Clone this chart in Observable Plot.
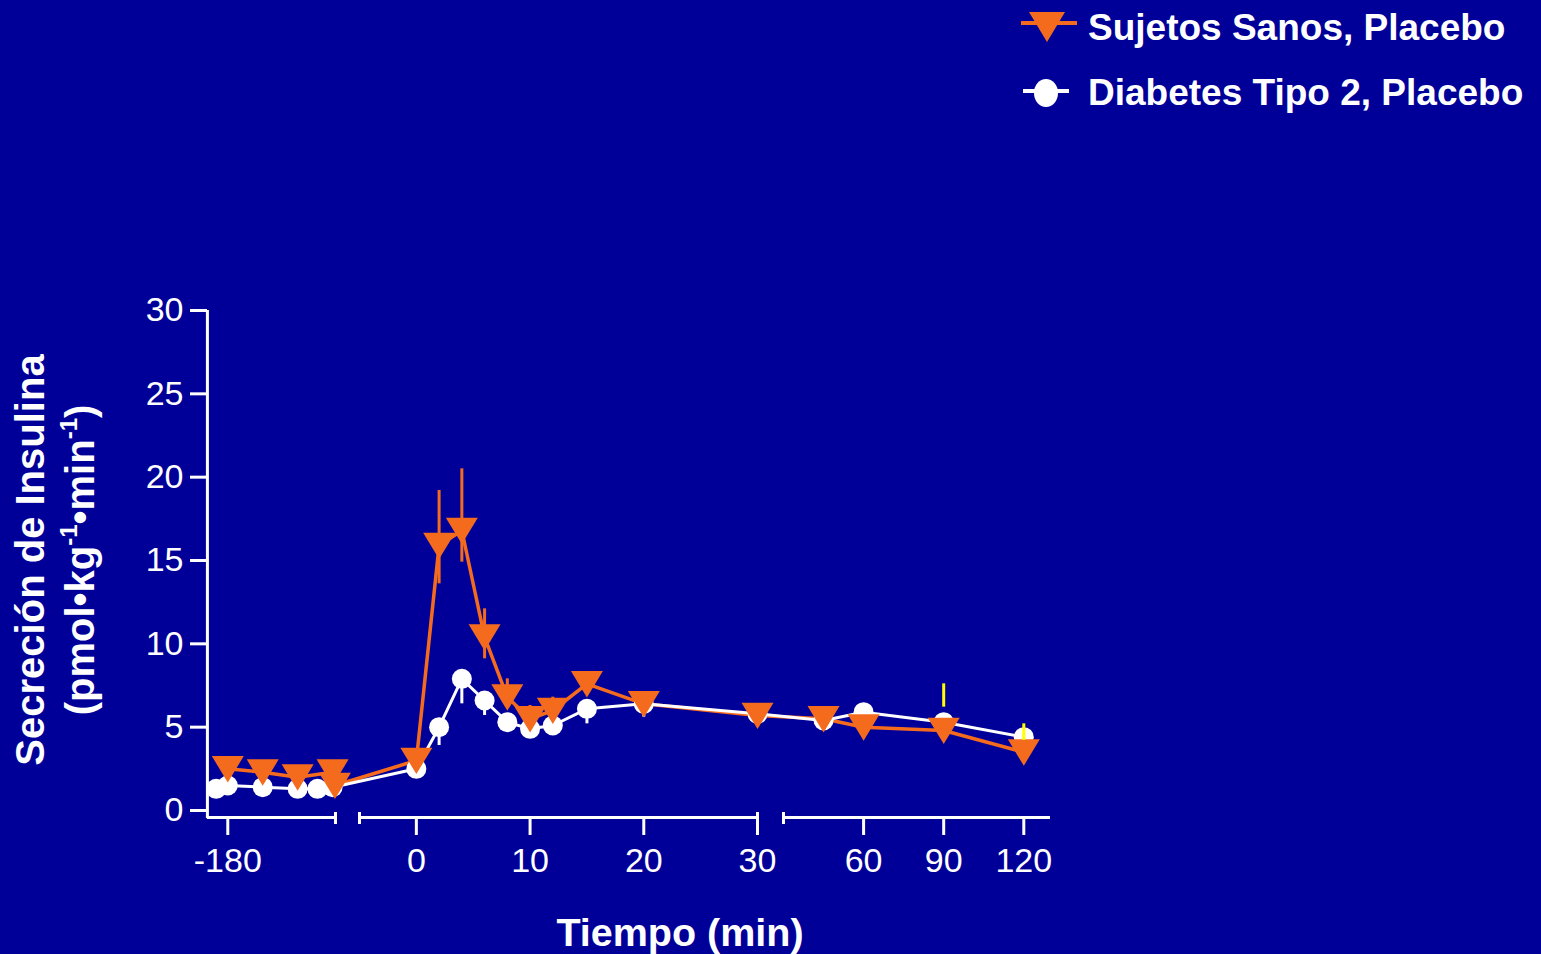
<!DOCTYPE html>
<html><head><meta charset="utf-8">
<script src="https://cdn.jsdelivr.net/npm/d3@7"></script>
<script src="https://cdn.jsdelivr.net/npm/@observablehq/plot@0.6"></script>
<style>
html,body{margin:0;padding:0;background:#000099;}
#wrap{position:relative;width:1541px;height:954px;overflow:hidden;font-family:"Liberation Sans",Arial,sans-serif;color:#fff;background:#000099;}
#chart{position:absolute;left:0;top:0;}
.lg-text{position:absolute;font-weight:bold;font-size:37px;line-height:40px;white-space:nowrap;}
.lg-mark{position:absolute;}
#ytitle{position:absolute;width:600px;height:100px;left:-245px;top:510px;transform:rotate(-90deg);text-align:center;font-weight:bold;font-size:40px;line-height:50px;white-space:nowrap;}
#ytitle sup{font-size:0.6em;vertical-align:0.7em;line-height:0;}
#xtitle{position:absolute;width:600px;left:380px;top:910px;text-align:center;font-weight:bold;font-size:39.5px;line-height:44px;white-space:nowrap;}
</style></head><body><div id="wrap"><div id="chart"></div></div>
<script>
// ---- data ----
const seriesNames = ["Sujetos Sanos, Placebo", "Diabetes Tipo 2, Placebo"];
const timeSanos = [-180, -150, -120, -90, -88, 0, 2, 4, 6, 8, 10, 12, 15, 20, 30, 45, 60, 90, 120];
const valSanos  = [2.5, 2.3, 2.0, 2.3, 1.5, 3.0, 15.9, 16.8, 10.4, 6.8, 5.5, 6.0, 7.6, 6.4, 5.7, 5.5, 5.0, 4.8, 3.5];
const timeDiab  = [-190, -180, -150, -120, -103, -90, 0, 2, 4, 6, 8, 10, 12, 15, 20, 30, 45, 60, 90, 120];
const valDiab   = [1.3, 1.5, 1.4, 1.3, 1.3, 1.4, 2.5, 5.0, 7.9, 6.6, 5.3, 4.9, 5.1, 6.1, 6.4, 5.8, 5.4, 5.9, 5.3, 4.4];
// error bars
const errSanosTime = [2, 4, 6, 8, 10, 12, 15, 20, 30];
const errSanosHi   = [19.2, 20.5, 12.1, 7.9, 6.3, 6.8, 8.3, 7.1, 6.4];
const errSanosLo   = [13.6, 14.9, 9.1, 6.8, 5.5, 6.0, 7.6, 6.4, 5.7];
const errDiabTime  = [2, 4, 6, 12, 15, 20];
const errDiabLo    = [3.9, 6.4, 5.7, 4.5, 5.2, 5.6];
const errYellowTime = [90, 120];
const errYellowLo   = [6.2, 4.2];
const errYellowHi   = [7.6, 5.2];
// axes
const xTicks = [-180, 0, 10, 20, 30, 60, 90, 120];
const yTicks = [0, 5, 10, 15, 20, 25, 30];
// broken time axis: piecewise scale pieces
const xBreakDomain = [-200, -87.5, -5, 30, 30.001, 130];
const xBreakRange  = [204, 335, 359, 757, 783, 1050];
const segStart = [-197.5, -5, 30.001];
const segEnd   = [-87.5, 30, 130];
const segBrackets = [-87.5, -5, 30, 30.001];

const ORANGE = "#f46b1e";

const sanos = timeSanos.map((t, i) => ({t, v: valSanos[i]}));
const diab = timeDiab.map((t, i) => ({t, v: valDiab[i]}));
const errSanos = errSanosTime.map((t, i) => ({t, lo: errSanosLo[i], hi: errSanosHi[i]}));
const errDiab = errDiabTime.map((t, i) => ({t, v: valDiab[timeDiab.indexOf(t)], lo: errDiabLo[i]}));
const errYellow = errYellowTime.map((t, i) => ({t, lo: errYellowLo[i], hi: errYellowHi[i]}));
const segments = segStart.map((a, i) => ({a, b: segEnd[i]}));

const triangleDown = {
  draw(context, size) {
    const r = Math.sqrt(size / Math.PI);
    context.moveTo(-r, -0.8 * r);
    context.lineTo(r, -0.8 * r);
    context.lineTo(0, 0.85 * r);
    context.closePath();
  }
};

const chart = Plot.plot({
  width: 1541, height: 954,
  marginLeft: 207, marginBottom: 137, marginTop: 310, marginRight: 491,
  style: {background: "transparent", color: "white", fontFamily: "'Liberation Sans', Arial, sans-serif", overflow: "visible"},
  x: {type: "linear", domain: xBreakDomain, range: xBreakRange},
  y: {domain: [0, 30], range: [810, 310]},
  marks: [
    Plot.ruleY(segments, {x1: "a", x2: "b", y: () => 0, dy: 7, stroke: "white", strokeWidth: 3}),
    Plot.ruleX(segBrackets, {x: d => d, y1: () => 0, y2: () => 0, dy: 7, insetTop: -5, insetBottom: -7, stroke: "white", strokeWidth: 3}),
    Plot.ruleX([segStart[0]], {x: d => d, y1: () => 30, y2: () => 0, insetBottom: -8, stroke: "white", strokeWidth: 3}),
    Plot.axisY({ticks: yTicks, tickSize: 17, tickPadding: 7, fontSize: 34, strokeWidth: 3, label: null}),
    Plot.axisX({ticks: xTicks, tickSize: 18, tickPadding: 12, fontSize: 34, strokeWidth: 3, tickFormat: d => String(d), label: null}),
    Plot.line(sanos, {x: "t", y: "v", stroke: ORANGE, strokeWidth: 3.5}),
    Plot.line(diab, {x: "t", y: "v", stroke: "white", strokeWidth: 3}),
    Plot.ruleX(errDiab, {x: "t", y1: "v", y2: "lo", stroke: "white", strokeWidth: 3}),
    Plot.dot(diab, {x: "t", y: "v", r: 10, fill: "white", stroke: null}),
    Plot.ruleX(errSanos, {x: "t", y1: "hi", y2: "lo", stroke: ORANGE, strokeWidth: 3}),
    Plot.dot(sanos, {x: "t", y: "v", r: 16, fill: ORANGE, stroke: null, symbol: triangleDown}),
    Plot.ruleX(errYellow, {x: "t", y1: "hi", y2: "lo", stroke: "#ffff00", strokeWidth: 3})
  ]
});
document.getElementById("chart").appendChild(chart);

const wrap = document.getElementById("wrap");
// legend
const lg = document.createElement("div");
lg.innerHTML = `
<svg class="lg-mark" style="left:1018px;top:6px" width="64" height="42">
  <line x1="3" y1="17" x2="59" y2="17" stroke="${ORANGE}" stroke-width="4"/>
  <path d="M11,6 L47,6 L29,36 Z" fill="${ORANGE}"/>
</svg>
<div class="lg-text" style="left:1088px;top:8px">${seriesNames[0]}</div>
<svg class="lg-mark" style="left:1018px;top:76px" width="64" height="36">
  <line x1="5" y1="15" x2="51" y2="15" stroke="white" stroke-width="4"/>
  <ellipse cx="28" cy="17" rx="12" ry="14" fill="white"/>
</svg>
<div class="lg-text" style="left:1088px;top:73px">${seriesNames[1]}</div>
`;
wrap.appendChild(lg);
const yt = document.createElement("div");
yt.id = "ytitle";
yt.innerHTML = "Secreción de Insulina<br>(pmol•kg<sup>-1</sup>•min<sup>-1</sup>)";
wrap.appendChild(yt);
const xt = document.createElement("div");
xt.id = "xtitle";
xt.textContent = "Tiempo (min)";
wrap.appendChild(xt);
</script></body></html>
